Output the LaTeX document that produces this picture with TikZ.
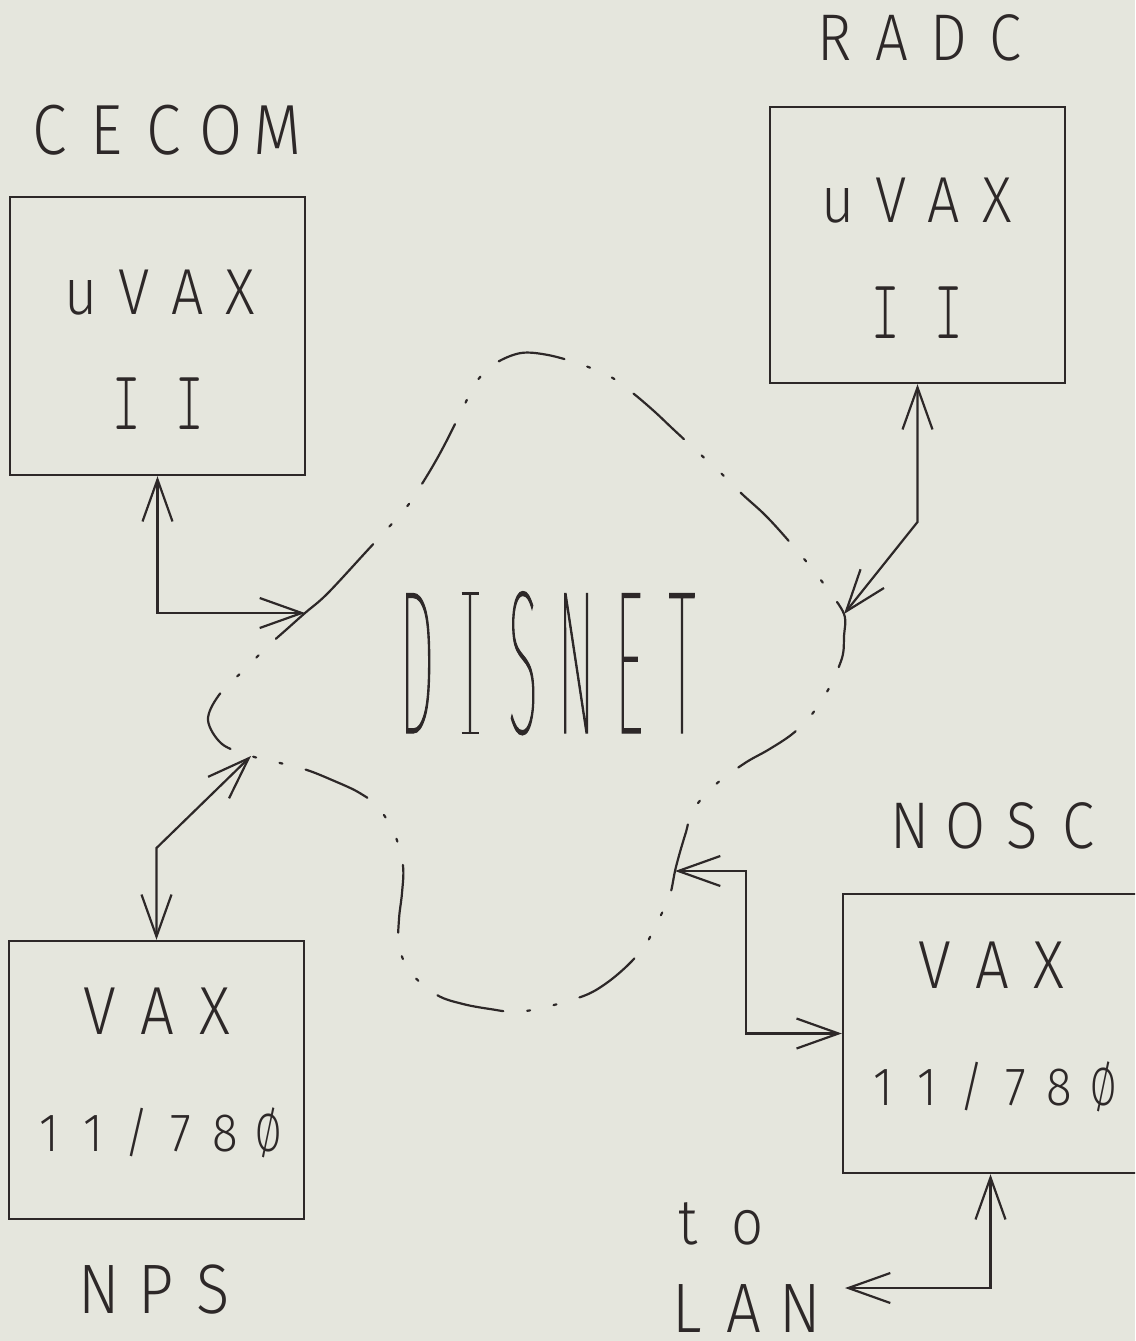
\documentclass[tikz,border=0pt]{standalone}
\usepackage{fontspec}
\usepackage{graphicx}
\usetikzlibrary{arrows.meta}
\IfFontExistsTF{Fira Sans Light}{\def\labfont{Fira Sans Light}}{%
  \IfFontExistsTF{Lato Light}{\def\labfont{Lato Light}}{\def\labfont{Fira Sans}}}
\IfFontExistsTF{Fira Sans Thin}{\def\disfont{Fira Sans Thin}}{%
  \IfFontExistsTF{Fira Sans ExtraLight}{\def\disfont{Fira Sans ExtraLight}}{%
    \IfFontExistsTF{Lato Hairline}{\def\disfont{Lato Hairline}}{\let\disfont\labfont}}}
\newfontfamily\pf[FakeStretch=0.88]{\labfont}
\newfontfamily\df[FakeStretch=0.27, FakeBold=0.5]{\disfont}
\newfontfamily\lmlight{lmmonolt10-regular.otf}
\newcommand\serI{\scalebox{0.72}[1.128]{\lmlight I}}
% DISNET "I": the thin font's I with thin bars top and bottom
\newcommand\disI{\setbox0\hbox{I}%
  \hbox to 17pt{\hss\copy0\hss}%
  \llap{\rule[-1.2pt]{17pt}{2.6pt}}%
  \llap{\rule[\dimexpr\ht0-1.4pt\relax]{17pt}{2.6pt}}}
\newcommand\sz{\scalebox{0.8}[1]{Ø}}
\newcommand\pitched[2]{\def\pitchw{#1}\pitchedi#2\relax}
\def\pitchedi#1{\ifx#1\relax\else\hbox to \pitchw{\hss#1\hss}\expandafter\pitchedi\fi}
\definecolor{ink}{RGB}{45,40,40}
\definecolor{bgc}{RGB}{229,230,221}
\tikzset{
  barb/.tip={Straight Barb[length=42pt,width=30pt]},
  box/.style={draw=ink, line width=2.4pt, inner sep=0pt, minimum width=295pt},
  conn/.style={draw=ink, line width=2.2pt, barb-barb},
  cloudline/.style={draw=ink, line width=2.2pt, line cap=round,
    dash pattern=on 68pt off 24pt on 3pt off 24pt on 3pt off 24pt},
  lab/.style={inner sep=0pt, anchor=base, text=ink},
}
\newcommand\fs[1]{\pf\fontsize{#1}{#1}\selectfont}
\begin{document}
\begin{tikzpicture}[x=1pt,y=-1pt]
\useasboundingbox (0,0) rectangle (1135,1341);
\fill[bgc] (0,0) rectangle (1135,1341);
\clip (0,0) rectangle (1135,1341);

% boxes
\node[box, minimum height=278pt] (cecom) at (157.5,336) {};
\node[box, minimum height=276pt] (radc) at (917.5,245) {};
\node[box, minimum height=278pt] (nps) at (156.5,1080) {};
\node[box, minimum height=279pt] (nosc) at (990.5,1033.5) {};

% labels
\node[lab, font=\fs{71pt}] (cecomlab) at (164,154) {\pitched{57pt}{CECOM}};
\node[lab, font=\fs{65pt}] (cecomcpu) at (161,314) {\pitched{53pt}{uVAX}};
\node[lab, font=\fs{75pt}] (cecomii) at (158.5,429) {\pitched{63pt}{\serI\serI}};
\node[lab, font=\fs{66pt}] (radclab) at (920,60) {\pitched{57pt}{RADC}};
\node[lab, font=\fs{65pt}] (radccpu) at (917.5,222) {\pitched{53pt}{uVAX}};
\node[lab, font=\fs{75pt}] (radcii) at (917.5,338) {\pitched{63pt}{\serI\serI}};
\node[lab, font=\fs{68pt}] (npscpu) at (157.5,1034) {\pitched{57.5pt}{VAX}};
\node[lab, font=\fs{54pt}] (npsmod) at (159,1151) {\pitched{44pt}{11/78\sz}};
\node[lab, font=\fs{70pt}] (npslab) at (156,1313) {\pitched{57pt}{NPS}};
\node[lab, font=\fs{66pt}] (nosclab) at (994,848) {\pitched{56pt}{NOSC}};
\node[lab, font=\fs{68pt}] (nosccpu) at (992,988) {\pitched{57pt}{VAX}};
\node[lab, font=\fs{54pt}] (noscmod) at (993.5,1105) {\pitched{44pt}{11/78\sz}};
\node[lab, font=\fs{64pt}] (tolab) at (718,1244) {\pitched{60pt}{to}};
\node[lab, font=\fs{70pt}] (lanlab) at (744,1332) {\pitched{56.5pt}{LAN}};
\node[lab, font=\df\fontsize{205pt}{205pt}\selectfont] (disnet) at (549.5,733)
  {\pitched{53pt}{D\disI SNET}};

% cloud attachment points
\coordinate (cw) at (305,613);
\coordinate (cr) at (844,614);
\coordinate (cn) at (675,871);
\coordinate (cs) at (251,756);

\draw[cloudline] plot[smooth cycle, tension=0.55] coordinates {
 (cw) (327,594) (365,553) (405,509) (420,487) (434,464) (446,442) (462,410)
 (477,381) (496,363) (521,353) (548,355) (580,364) (611,377) (634,394)
 (655,412) (673,429) (700,454) (724,476) (742,494) (763,513) (780,531)
 (805,560) (826,587) (cr) (844,636) (842,658) (828,690) (809,718)
 (791,735) (768,750) (745,763) (715,785) (693,810) (686,832) (680,852)
 (cn) (670,895) (660,917) (646,944) (629,964) (608,982) (586,995)
 (550,1006) (517,1012) (490,1009) (463,1004) (437,995) (410,972)
 (399,946) (399,919) (402,893) (403,866) (395,835) (378,807) (358,792)
 (332,780) (307,770) (280,763) (cs) (222,744) (208,720) (219,695)
 (245,669) (268,646) (287,629)};

% connectors
\coordinate (rbend) at (917.5,522);
\coordinate (nbend) at (156.5,848);
\coordinate (ncorner) at (746,871);
\coordinate (lanend) at (845,1288);
\draw[conn] (cecom.south) |- (cw);
\draw[conn] (radc.south) -- (rbend) -- (cr);
\draw[conn] (nps.north) -- (nbend) -- (cs);
\draw[conn] (cn) -- (ncorner) |- (nosc.west);
\draw[conn] (nosc.south) |- (lanend);
\end{tikzpicture}
\end{document}
